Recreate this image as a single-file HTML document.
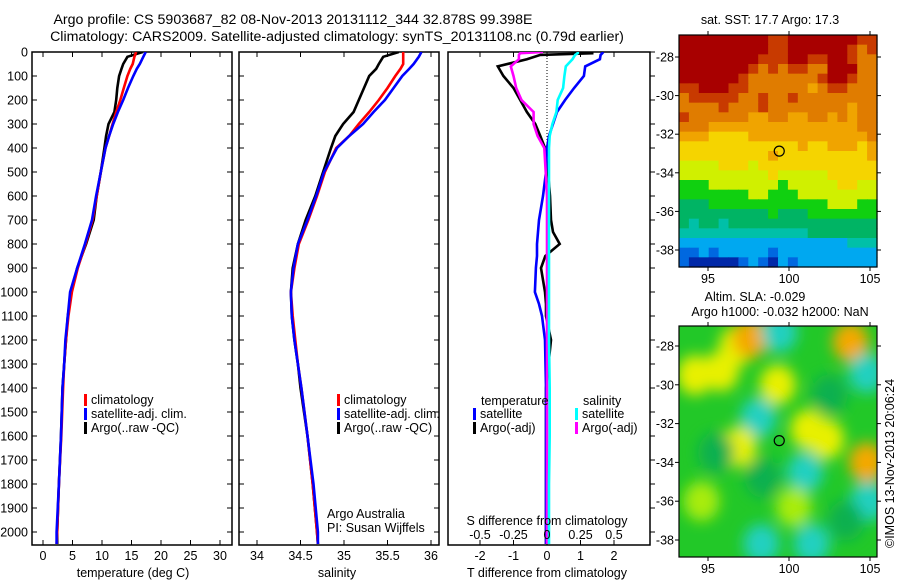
<!DOCTYPE html>
<html><head><meta charset="utf-8"><style>
html,body{margin:0;padding:0;background:#fff;}
svg{display:block;font-family:"Liberation Sans",sans-serif;}
text{font-size:12.5px;fill:#000;}
</style></head><body>
<svg id="fig" width="900" height="580" viewBox="0 0 900 580" xmlns="http://www.w3.org/2000/svg">
<defs>
<clipPath id="c1"><rect x="32" y="52" width="200" height="493"/></clipPath>
<clipPath id="c2"><rect x="239" y="52" width="200" height="493"/></clipPath>
<clipPath id="c3"><rect x="448" y="52" width="202" height="493"/></clipPath>
<clipPath id="cm1"><rect x="679" y="35" width="198" height="232"/></clipPath>
<clipPath id="cm2"><rect x="679" y="326" width="198" height="231"/></clipPath>
<filter id="blur" x="-50%" y="-50%" width="200%" height="200%"><feGaussianBlur stdDeviation="7"/></filter>
</defs>
<text x="293" y="24" text-anchor="middle" style="font-size:14.2px">Argo profile: CS 5903687_82 08-Nov-2013 20131112_344 32.878S 99.398E</text>
<text x="337" y="41" text-anchor="middle" style="font-size:14.2px">Climatology: CARS2009. Satellite-adjusted climatology: synTS_20131108.nc (0.79d earlier)</text>
<g id="g1"></g>
<g id="g2"></g>
<g id="g3"></g>
<g id="gm1"></g>
<g id="gm2"></g>
<text x="770" y="24" text-anchor="middle" style="font-size:12.5px">sat. SST: 17.7 Argo: 17.3</text>
<text x="755" y="301" text-anchor="middle" style="font-size:12.5px">Altim. SLA: -0.029</text>
<text x="780" y="316" text-anchor="middle" style="font-size:12.5px">Argo h1000: -0.032 h2000: NaN</text>
<text x="0" y="0" transform="translate(894,548) rotate(-90)" style="font-size:12.5px">©IMOS 13-Nov-2013 20:06:24</text>
</svg>
<script>
// ---- data ----
const depths = [0,20,50,70,100,150,200,250,300,350,400,500,600,700,800,900,1000,1100,1200,1300,1400,1600,1800,2000,2050];
const tempArgo = [16.9,14.3,13.6,13.3,12.9,12.6,12.4,12.1,11.1,10.7,10.4,9.8,9.1,8.6,7.3,5.8,4.8,4.2,3.9,3.6,3.3,3.05,2.7,2.4,2.4];
const tempClim = [15.8,15.5,15.2,14.8,14.3,13.7,13.1,12.4,11.8,11.2,10.6,9.8,9.1,8.4,7.2,5.9,4.9,4.3,3.9,3.6,3.4,3.1,2.7,2.4,2.3];
const tempSat = [17.4,17.0,16.4,15.9,15.3,14.4,13.6,12.7,11.9,11.2,10.6,9.8,9.0,8.3,7.1,5.8,4.6,4.2,3.8,3.6,3.3,3.05,2.7,2.3,2.3];
const salArgo = [35.63,35.45,35.40,35.37,35.29,35.23,35.17,35.11,34.99,34.90,34.85,34.76,34.67,34.56,34.47,34.41,34.39,34.40,34.43,34.47,34.50,34.58,34.64,34.69,34.70];
const salClim = [35.68,35.68,35.68,35.65,35.59,35.50,35.40,35.29,35.17,35.06,34.91,34.78,34.69,34.59,34.48,34.43,34.39,34.41,34.44,34.47,34.51,34.58,34.64,34.69,34.70];
const salSat = [35.89,35.86,35.80,35.75,35.67,35.57,35.47,35.34,35.22,35.06,34.92,34.77,34.68,34.58,34.47,34.42,34.39,34.40,34.43,34.47,34.51,34.58,34.65,34.70,34.70];
const diffDepths = [0,5,12,30,60,100,150,200,250,300,350,400,500,600,700,750,800,850,900,1000,1050,1100,1200,1400,1600,1800,2000,2050];
const dTempSat = [1.68,1.65,1.6,1.58,1.14,1.1,0.81,0.54,0.3,0.18,0.06,0,-0.03,-0.12,-0.24,-0.27,-0.3,-0.3,-0.33,-0.36,-0.24,-0.15,-0.06,-0.03,-0.03,-0.03,-0.03,-0.03];
const dTempArgo = [1.35,1.35,-0.2,-0.6,-1.47,-1.3,-1.0,-0.8,-0.6,-0.35,-0.2,-0.06,0.03,0.09,0.12,0.18,0.38,-0.05,-0.18,-0.06,-0.03,-0.03,0.12,-0.03,-0.03,-0.03,-0.03,-0.03];
const dSalSat = [0.23,0.23,0.21,0.19,0.14,0.13,0.12,0.08,0.07,0.04,0.02,0.015,0.015,0.015,0.015,0.015,0.015,0.015,0.015,0.015,0.015,0.015,0.015,0.02,0.02,0.015,0.015,0.015];
const dSalArgo = [-0.03,-0.2,-0.21,-0.21,-0.27,-0.25,-0.23,-0.19,-0.1,-0.1,-0.07,-0.02,-0.01,0,0,0,0,0,0,0,0,0,0,0,0,0,0,0];
const depthTicks = [0,100,200,300,400,500,600,700,800,900,1000,1100,1200,1300,1400,1500,1600,1700,1800,1900,2000];
const tempTicks = [0,5,10,15,20,25,30];
const salTicks = [34,34.5,35,35.5,36];
const salTickLabels = ["34","34.5","35","35.5","36"];
const dTempTicks = [-2,-1,0,1,2];
const dSalTicks = [-0.5,-0.25,0,0.25,0.5];
const dSalTickLabels = ["-0.5","-0.25","0","0.25","0.5"];
const sstRows = [
"00000000011000000011","00000000011000000121","00000000111001100122","00000001212112200022",
"00000012222222100122","11000112222223211222","21111122122122222222","22221222122222222322",
"12222223322332232322","22233333333333333322","33344443333333333332","44444444444434433343",
"44444444434444444443","55554445444444444444","55555555545555544444","66655555556555554455",
"66666665566655555555","77766666666666655566","77777777767776666666","78778777777777777777",
"88888888888887777777","99999999999999999888","aa9a99999a9999999999","abbbbba9ab9a99999999"];
const sstColors = {"0":"#a80000","1":"#c83a00","2":"#e07c00","3":"#f0a400","4":"#f5d400","5":"#d0f000","6":"#10d010","7":"#00b464","8":"#00c0a8","9":"#00a8f0","a":"#0068e0","b":"#0028a8"};
const slaBlobLon = [96.8,97.6,103.8,94.2,95.8,104.8,99.3,101.2,104.8,98.1,101,94.6,102.3,96.9,99.4,101.4,98.3,104.9,100.3,98.4,102.5,95.5,103.5];
const slaBlobLat = [-28,-27.6,-27.8,-29.5,-29.3,-34,-30,-32.3,-29.4,-31.7,-34.5,-36,-32.8,-33.2,-27.3,-38.2,-38.2,-36,-36.3,-34.8,-30.5,-33.5,-37];
const slaBlobVal = ["y","o","o","y","y","o","y","y","c","c","c","l","y","y","c","c","c","c","l","d","d","d","d"];
const slaColors = {"y":"#e8f000","o":"#f4a800","c":"#20d0c0","l":"#a8ec10","d":"#10b050"};

const NS="http://www.w3.org/2000/svg";
function mk(parent,tag,attrs,text){const e=document.createElementNS(NS,tag);for(const k in attrs)e.setAttribute(k,attrs[k]);if(text!==undefined)e.textContent=text;parent.appendChild(e);return e;}
const Y0=52, YS=0.24;
const yD = d => Y0 + d*YS;
const xT = t => 43 + t*5.9;
const xS = s => 257 + (s-34)*87;
const xDT = t => 547 + t*33.5;
const xDS = s => 547 + s*134;

function panelFrame(g, x0, x1, ticksRight){
  const r=mk(g,'rect',{x:x0,y:52,width:x1-x0,height:493,fill:'none',stroke:'#000','stroke-width':1.5});
  
  
  depthTicks.forEach(d=>{
    const y=yD(d);
    if(ticksRight){mk(g,'line',{x1:x1,x2:x1+5,y1:y,y2:y,stroke:'#000'});}
    else{mk(g,'line',{x1:x0,x2:x0+5,y1:y,y2:y,stroke:'#000'});mk(g,'line',{x1:x1-5,x2:x1,y1:y,y2:y,stroke:'#000'});}
  });
}
function xTicks(g, ticks, labels, fx, y){
  ticks.forEach((t,i)=>{
    const x=fx(t);
    mk(g,'line',{x1:x,x2:x,y1:52,y2:57,stroke:'#000'});
    mk(g,'line',{x1:x,x2:x,y1:540,y2:545,stroke:'#000'});
    const tx=mk(g,'text',{x:x,y:y,'text-anchor':'middle'},labels[i]);
    
    
  });
}
function series(g, clip, ds, vs, fx, color, name){
  const pts = ds.map((d,i)=>fx(vs[i]).toFixed(1)+','+yD(d).toFixed(1)).join(' ');
  const p=mk(g,'polyline',{points:pts,fill:'none',stroke:color,'stroke-width':2.6,'stroke-linejoin':'miter','clip-path':'url(#'+clip+')'});
  
  
}
function legend(g, x, y, color, label){
  mk(g,'rect',{x:x,y:y-10,width:3,height:12,fill:color});
  const t=mk(g,'text',{x:x+7,y:y},label);
  
  
}

// Panel 1
const g1=document.getElementById('g1');
panelFrame(g1,32,232,false);
depthTicks.forEach(d=>{
  const t=mk(g1,'text',{x:28,y:yD(d)+4.5,'text-anchor':'end'},String(d));
  
  
});
xTicks(g1,tempTicks,tempTicks.map(String),xT,560);
series(g1,'c1',depths,tempArgo,xT,'#000','temp-argo-line');
series(g1,'c1',depths,tempClim,xT,'#f00','temp-clim-line');
series(g1,'c1',depths,tempSat,xT,'#00f','temp-sat-line');
legend(g1,84,404,'#f00','climatology');
legend(g1,84,418,'#00f','satellite-adj. clim.');
legend(g1,84,432,'#000','Argo(..raw -QC)');
const xt1=mk(g1,'text',{x:133,y:577,'text-anchor':'middle'},'temperature (deg C)');



// Panel 2
const g2=document.getElementById('g2');
panelFrame(g2,239,439,false);
xTicks(g2,salTicks,salTickLabels,xS,560);
series(g2,'c2',depths,salArgo,xS,'#000','sal-argo-line');
series(g2,'c2',depths,salClim,xS,'#f00','sal-clim-line');
series(g2,'c2',depths,salSat,xS,'#00f','sal-sat-line');
legend(g2,337,404,'#f00','climatology');
legend(g2,337,418,'#00f','satellite-adj. clim.');
legend(g2,337,432,'#000','Argo(..raw -QC)');
const aa=mk(g2,'text',{x:327,y:518},'Argo Australia');


const pi=mk(g2,'text',{x:327,y:532},'PI: Susan Wijffels');


const xt2=mk(g2,'text',{x:337,y:577,'text-anchor':'middle'},'salinity');



// Panel 3
const g3=document.getElementById('g3');
panelFrame(g3,448,650,true);
xTicks(g3,dTempTicks,dTempTicks.map(String),xDT,560);
mk(g3,'line',{x1:547,x2:547,y1:52,y2:155,stroke:'#000','stroke-dasharray':'1,2'});
series(g3,'c3',diffDepths,dTempArgo,xDT,'#000','dtemp-argo-line');
series(g3,'c3',diffDepths,dTempSat,xDT,'#00f','dtemp-sat-line');
series(g3,'c3',diffDepths,dSalArgo,xDS,'#f0f','dsal-argo-line');
series(g3,'c3',diffDepths,dSalSat,xDS,'#0ff','dsal-sat-line');
mk(g3,'text',{x:481,y:405},'temperature');
mk(g3,'text',{x:583,y:405},'salinity');
legend(g3,473,418,'#00f','satellite');
legend(g3,473,432,'#000','Argo(-adj)');
legend(g3,575,418,'#0ff','satellite');
legend(g3,575,432,'#f0f','Argo(-adj)');
const sd=mk(g3,'text',{x:547,y:525,'text-anchor':'middle'},'S difference from climatology');


dSalTicks.forEach((s,i)=>{mk(g3,'text',{x:xDS(s),y:539,'text-anchor':'middle'},dSalTickLabels[i]);});
const xt3=mk(g3,'text',{x:547,y:577,'text-anchor':'middle'},'T difference from climatology');



// Maps
const lonX = lon => 708 + (lon-95)*16.2;
function mapAxes(g, top, bottom, latY){
  mk(g,'rect',{x:679,y:top,width:198,height:bottom-top,fill:'none',stroke:'#000','stroke-width':1.2});
  [95,100,105].forEach(l=>{const x=lonX(l);mk(g,'line',{x1:x,x2:x,y1:top-4,y2:top,stroke:'#000'});mk(g,'line',{x1:x,x2:x,y1:bottom,y2:bottom+4,stroke:'#000'});mk(g,'text',{x:x,y:bottom+16,'text-anchor':'middle'},String(l));});
  [-28,-30,-32,-34,-36,-38].forEach(la=>{const y=latY(la);mk(g,'line',{x1:675,x2:679,y1:y,y2:y,stroke:'#000'});mk(g,'line',{x1:877,x2:881,y1:y,y2:y,stroke:'#000'});mk(g,'text',{x:674,y:y+4.5,'text-anchor':'end'},String(la));});
}
const gm1=document.getElementById('gm1');
const latY1 = la => 57 + (-28-la)*19.3;
const cw=198/20, ch=232/sstRows.length;
sstRows.forEach((row,r)=>{
  for(let c=0;c<row.length;c++){
    const cell=mk(gm1,'rect',{x:(679+c*cw).toFixed(2),y:(35+r*ch).toFixed(2),width:(cw+0.6).toFixed(2),height:(ch+0.6).toFixed(2),fill:sstColors[row[c]]});
    
    
  }
});
mk(gm1,'circle',{cx:lonX(99.398),cy:latY1(-32.878),r:5,fill:'none',stroke:'#000','stroke-width':1.2});
mapAxes(gm1,35,267,latY1);

const gm2=document.getElementById('gm2');
const latY2 = la => 346 + (-28-la)*19.4;
mk(gm2,'rect',{x:679,y:326,width:198,height:231,fill:'#22c828'});
const bg=mk(gm2,'g',{'clip-path':'url(#cm2)'});
const bl=mk(bg,'g',{filter:'url(#blur)'});
slaBlobLon.forEach((lon,i)=>{
  const b=mk(bl,'ellipse',{cx:lonX(lon),cy:latY2(slaBlobLat[i]),rx:18,ry:20,fill:slaColors[slaBlobVal[i]]});
  
  
});
mk(gm2,'circle',{cx:lonX(99.398),cy:latY2(-32.878),r:5,fill:'none',stroke:'#000','stroke-width':1.2});
mapAxes(gm2,326,557,latY2);
</script>
</body></html>
